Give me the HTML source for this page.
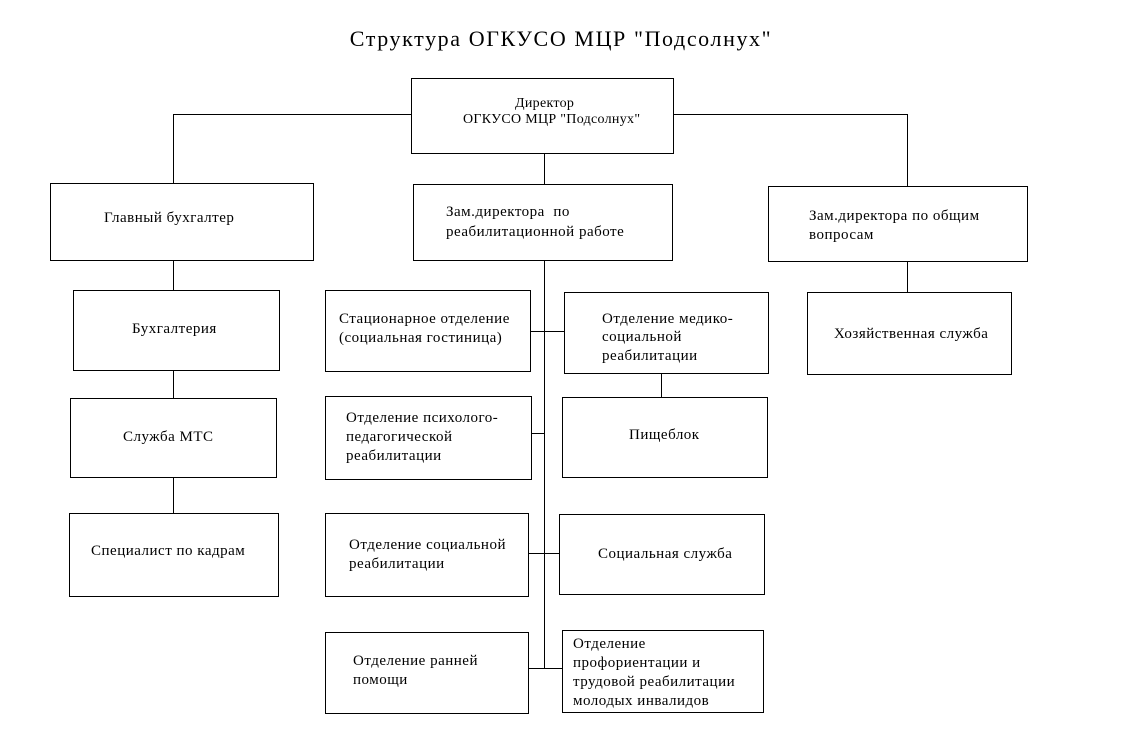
<!DOCTYPE html>
<html><head><meta charset="utf-8"><style>
body{margin:0;width:1134px;height:756px;background:#fff;position:relative;font-family:"Liberation Serif",serif;overflow:hidden}
.b{position:absolute;border:1px solid #000;box-sizing:border-box;font-size:15px;letter-spacing:0.5px;line-height:19px;color:#000}
.b span{position:absolute;white-space:nowrap}
.t{position:absolute;left:0;width:1134px;text-align:center;top:26px;font-size:22px;letter-spacing:1.6px}
svg{position:absolute;left:0;top:0}
</style></head><body>
<div class="t" style="left:-6px">Структура ОГКУСО МЦР "Подсолнух"</div>
<svg width="1134" height="756"><g stroke="#000" stroke-width="1" fill="none">
<path d="M411 114.5H173.5V183"/>
<path d="M673 114.5H907.5V186"/>
<path d="M544.5 153V184"/>
<path d="M544.5 260V668.5"/>
<path d="M530 331.5H564"/>
<path d="M531 433.5H544"/>
<path d="M528 553.5H559"/>
<path d="M528 668.5H562"/>
<path d="M661.5 373V397"/>
<path d="M173.5 260V290M173.5 370V398M173.5 477V513"/>
<path d="M907.5 261V292"/>
</g></svg>
<div class="b" style="left:411px;top:78px;width:263px;height:76px;font-size:14px;letter-spacing:0.3px"><span style="left:103px;top:15px">Директор</span><span style="left:51px;top:31px">ОГКУСО МЦР "Подсолнух"</span></div>
<div class="b" style="left:50px;top:183px;width:264px;height:78px"><span style="left:53px;top:25px">Главный бухгалтер</span></div>
<div class="b" style="left:413px;top:184px;width:260px;height:77px"><span style="left:32px;top:18px">Зам.директора &nbsp;по</span><span style="left:32px;top:38px">реабилитационной работе</span></div>
<div class="b" style="left:768px;top:186px;width:260px;height:76px"><span style="left:40px;top:20px">Зам.директора по общим</span><span style="left:40px;top:39px">вопросам</span></div>
<div class="b" style="left:73px;top:290px;width:207px;height:81px"><span style="left:58px;top:29px">Бухгалтерия</span></div>
<div class="b" style="left:70px;top:398px;width:207px;height:80px"><span style="left:52px;top:29px">Служба МТС</span></div>
<div class="b" style="left:69px;top:513px;width:210px;height:84px"><span style="left:21px;top:28px">Специалист по кадрам</span></div>
<div class="b" style="left:325px;top:290px;width:206px;height:82px"><span style="left:13px;top:19px">Стационарное отделение</span><span style="left:13px;top:38px">(социальная гостиница)</span></div>
<div class="b" style="left:564px;top:292px;width:205px;height:82px"><span style="left:37px;top:17px">Отделение медико-</span><span style="left:37px;top:35px">социальной</span><span style="left:37px;top:54px">реабилитации</span></div>
<div class="b" style="left:807px;top:292px;width:205px;height:83px"><span style="left:26px;top:32px">Хозяйственная служба</span></div>
<div class="b" style="left:325px;top:396px;width:207px;height:84px"><span style="left:20px;top:12px">Отделение психолого-</span><span style="left:20px;top:31px">педагогической</span><span style="left:20px;top:50px">реабилитации</span></div>
<div class="b" style="left:562px;top:397px;width:206px;height:81px"><span style="left:66px;top:28px">Пищеблок</span></div>
<div class="b" style="left:325px;top:513px;width:204px;height:84px"><span style="left:23px;top:22px">Отделение социальной</span><span style="left:23px;top:41px">реабилитации</span></div>
<div class="b" style="left:559px;top:514px;width:206px;height:81px"><span style="left:38px;top:30px">Социальная служба</span></div>
<div class="b" style="left:325px;top:632px;width:204px;height:82px"><span style="left:27px;top:19px">Отделение ранней</span><span style="left:27px;top:38px">помощи</span></div>
<div class="b" style="left:562px;top:630px;width:202px;height:83px"><span style="left:10px;top:4px">Отделение</span><span style="left:10px;top:23px">профориентации и</span><span style="left:10px;top:42px">трудовой реабилитации</span><span style="left:10px;top:61px">молодых инвалидов</span></div>
</body></html>
